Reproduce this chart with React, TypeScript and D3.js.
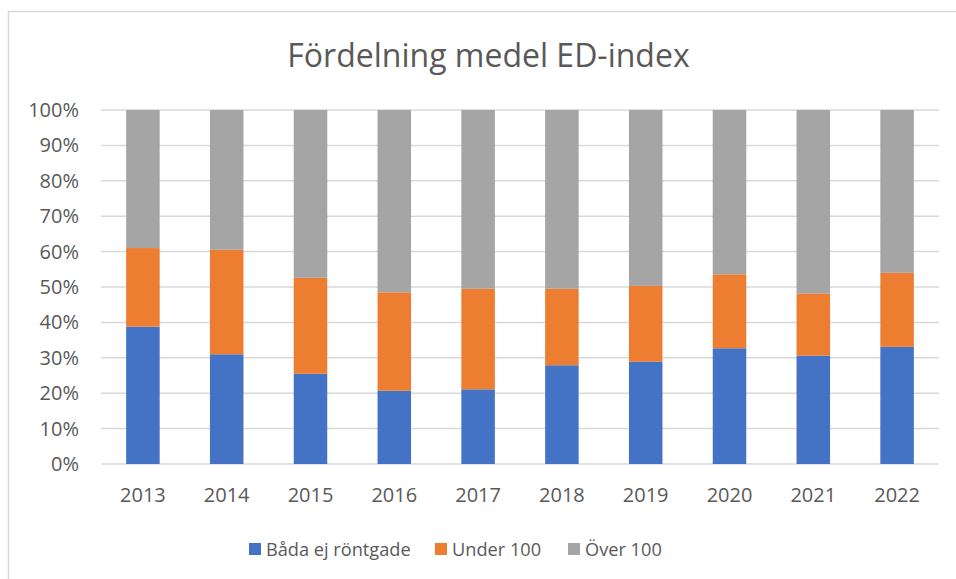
import React, { useEffect, useRef } from 'react'
import * as d3 from 'd3'

const years = ['2013', '2014', '2015', '2016', '2017', '2018', '2019', '2020', '2021', '2022']
const seriesNames = ['Båda ej röntgade', 'Under 100', 'Över 100']
const bothNotXrayed = [38.8, 31.0, 25.5, 20.7, 21.1, 27.9, 28.9, 32.7, 30.6, 33.1]
const under100 = [22.2, 29.5, 27.1, 27.8, 28.4, 21.6, 21.4, 20.9, 17.6, 20.9]
const over100 = [39.0, 39.5, 47.4, 51.5, 50.5, 50.5, 49.7, 46.4, 51.8, 46.0]
const colors = ['#4472c4', '#ed7d31', '#a5a5a5']
const yTicks = [0, 0.1, 0.2, 0.3, 0.4, 0.5, 0.6, 0.7, 0.8, 0.9, 1]

const FONT = '"Open Sans", sans-serif'
const TEXT = '#595959'
const GRID = '#d9d9d9'

export default function App() {
  const ref = useRef<SVGSVGElement | null>(null)

  useEffect(() => {
    if (!ref.current) return
    const width = 956
    const height = 579
    const plot = { left: 101, right: 939, top: 110, bottom: 464 }

    const svg = d3.select(ref.current)
      .attr('width', width)
      .attr('height', height)
      .style('font-family', FONT)

    // chart frame (cut off at right and bottom like the source)
    svg.append('rect')
      .attr('x', 8.5).attr('y', 11.5)
      .attr('width', width).attr('height', height)
      .attr('fill', 'white')
      .attr('stroke', GRID).attr('stroke-width', 1.5)

    svg.append('text')
      .attr('x', 488.5).attr('y', 66.5)
      .attr('text-anchor', 'middle')
      .attr('fill', TEXT)
      .style('font-size', '32px')
      .text('Fördelning medel ED-index')

    const x = d3.scaleBand<string>()
      .domain(years)
      .range([plot.left, plot.right])
      .paddingInner(0.6)
      .paddingOuter(0.3)

    const y = d3.scaleLinear().domain([0, 1]).range([plot.bottom, plot.top])

    // gridlines
    svg.append('g')
      .selectAll('line')
      .data(yTicks)
      .join('line')
      .attr('x1', plot.left).attr('x2', plot.right)
      .attr('y1', (d) => y(d)).attr('y2', (d) => y(d))
      .attr('stroke', GRID).attr('stroke-width', 1.5)

    svg.append('g')
      .selectAll('text')
      .data(yTicks)
      .join('text')
      .attr('x', 79).attr('y', (d) => y(d) + 7)
      .attr('text-anchor', 'end')
      .attr('fill', TEXT)
      .style('font-size', '20px')
      .text((d) => d3.format('.0%')(d))

    const rows = years.map((yr, i) => ({
      year: yr,
      a: bothNotXrayed[i],
      b: under100[i],
      c: over100[i],
    }))
    const stack = d3.stack<typeof rows[number]>()
      .keys(['a', 'b', 'c'])
      .offset(d3.stackOffsetExpand)
    const layers = stack(rows)

    svg.append('g')
      .selectAll('g')
      .data(layers)
      .join('g')
      .attr('fill', (_d, i) => colors[i])
      .selectAll('rect')
      .data((d) => d)
      .join('rect')
      .attr('x', (d) => x(d.data.year) as number)
      .attr('width', x.bandwidth())
      .attr('y', (d) => y(d[1]))
      .attr('height', (d) => y(d[0]) - y(d[1]))

    svg.append('g')
      .selectAll('text')
      .data(years)
      .join('text')
      .attr('x', (d) => (x(d) as number) + x.bandwidth() / 2)
      .attr('y', 501.5)
      .attr('text-anchor', 'middle')
      .attr('fill', TEXT)
      .style('font-size', '20px')
      .text((d) => d)

    // legend
    const legendX = [249, 435, 568]
    const legend = svg.append('g')
      .selectAll('g')
      .data(seriesNames)
      .join('g')
      .attr('transform', (_d, i) => `translate(${legendX[i]},543)`)
    legend.append('rect')
      .attr('width', 12).attr('height', 12)
      .attr('fill', (_d, i) => colors[i])
    legend.append('text')
      .attr('x', 17).attr('y', 13)
      .attr('fill', TEXT)
      .style('font-size', '18.2px')
      .text((d) => d)

    return () => {
      svg.selectAll('*').remove()
    }
  }, [])

  return <svg ref={ref} style={{ position: 'absolute', left: 0, top: 0 }} />
}
